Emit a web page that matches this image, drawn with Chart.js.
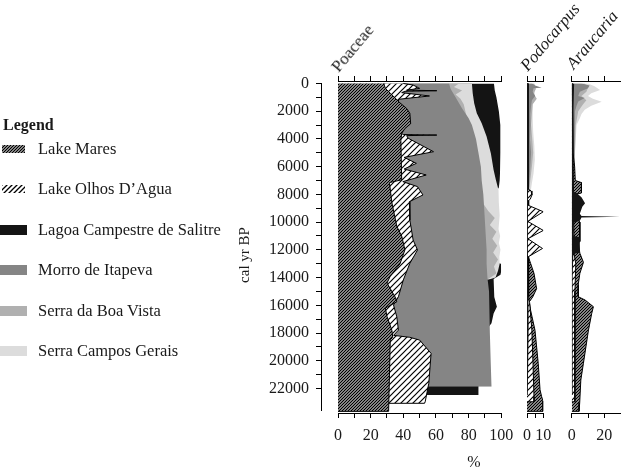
<!DOCTYPE html>
<html>
<head>
<meta charset="utf-8">
<script src="https://cdn.jsdelivr.net/npm/chart.js"></script>
<style>
body { margin: 0; background: #fff; width: 623px; height: 471px; overflow: hidden; position: relative; font-family: 'Liberation Serif', serif; color: #1a1a1a; }
canvas { position: absolute; left: 0; top: 0; }
.rot { position: absolute; white-space: nowrap; font-size: 17px; line-height: 17px; height: 17px; transform-origin: 0 100%; transform: rotate(-50deg); }
.lab { position: absolute; white-space: nowrap; }
</style>
</head>
<body>
<canvas id="yax" width="623" height="471"></canvas>
<canvas id="poa" width="623" height="471"></canvas>
<canvas id="pod" width="623" height="471"></canvas>
<canvas id="ara" width="623" height="471"></canvas>
<div id="legend"></div>
<div class="rot" style="left:341px;top:58px">Poaceae</div>
<div class="rot" style="left:530px;top:57px;font-style:italic">Podocarpus</div>
<div class="rot" style="left:576px;top:55px;font-style:italic">Araucaria</div>
<div class="lab" style="left:244px;top:255px;font-size:15px;transform:translate(-50%,-50%) rotate(-90deg)">cal yr BP</div>
<div class="lab" style="left:474px;top:462px;font-size:16px;transform:translate(-50%,-50%)">%</div>
<script>
// sites, in legend order
const sites = ['Lake Mares', 'Lake Olhos D\u2019Agua', 'Lagoa Campestre de Salitre', 'Morro de Itapeva', 'Serra da Boa Vista', 'Serra Campos Gerais']

// ticks
const ageTicks = [0, 1000, 2000, 3000, 4000, 5000, 6000, 7000, 8000, 9000, 10000, 11000, 12000, 13000, 14000, 15000, 16000, 17000, 18000, 19000, 20000, 21000, 22000]
const poaTicks = [0, 10, 20, 30, 40, 50, 60, 70, 80, 90, 100]
const poaLabels = [0, 20, 40, 60, 80, 100]
const podTicks = [0, 5, 10]
const podLabels = [0, 10]
const araTicks = [0, 10, 20]
const araLabels = [0, 20]

// Poaceae  [cal yr BP, %]
const poaMares = [[0,28],[350,29],[700,32],[1400,38],[1800,42],[2150,44],[2900,44.5],[3250,41],[3600,39],[4100,38.5],[6950,39],[7150,31.5],[8600,33],[10300,36],[11000,39],[12000,41],[13000,38],[13900,32],[14400,30],[15400,35],[15750,36],[16200,29],[16800,30],[17800,33],[18300,33.5],[18500,32],[23650,31],[23655,0]]
const poaOlhos = [[0,40],[110,46],[350,50],[480,42],[520,60.5],[560,41],[660,39],[900,56],[1140,37],[3500,37],[3680,40],[3720,60.5],[3760,42],[3950,43],[4920,58.5],[5330,40.5],[5760,48],[6170,40.5],[6600,54],[7080,39.7],[7440,48.7],[8040,52],[8530,43.7],[9850,44],[10570,45],[11290,46],[12010,48.7],[12970,44],[14170,40],[15380,37],[15980,34],[16830,36],[17790,37],[18170,34],[18310,44],[18510,50],[19470,57],[21630,55.6],[22110,54.8],[22960,53.4],[23070,53],[23075,0]]
const poaLagoa = [[0,95.5],[500,96],[1000,97],[2000,98.5],[3000,99.4],[5000,99.4],[6500,99.2],[7000,99],[7500,98.5],[8000,96],[9000,92],[11000,92],[12800,93],[13000,99.8],[13500,100],[13800,99.5],[14100,95.3],[15400,95.7],[16100,97.3],[16600,95.3],[17300,94],[17600,92],[20000,88],[21900,86],[22470,86]]
const poaMorro = [[0,68],[400,69],[1000,72],[1800,76],[2500,80],[3000,82],[4000,84.5],[5000,86],[6000,87.5],[7000,88],[8000,89],[9000,89.5],[10000,90],[11000,90.5],[12000,91],[13000,91],[14000,91.5],[15000,92.5],[16000,93],[18000,93],[20000,93.5],[21870,94]]
const poaBoaVista = [[0,74],[250,71],[500,76],[800,72],[1100,75],[1500,77],[2000,78],[3000,80],[5000,84],[7000,86],[8500,88],[9200,92],[9700,96],[10200,93],[10700,97],[11200,94.5],[11700,97.5],[12200,95],[12700,98],[13200,95.5],[13700,97],[14100,92]]
const poaCampos = [[0,82],[700,82.5],[1430,83.4],[2150,85],[2870,88],[3830,91],[5040,93.6],[6240,95.3],[6960,96.7],[7680,98.3],[8600,98.5],[9500,99],[10500,98.3],[11000,99.3],[11500,98.5],[12000,99.5],[12500,98.8],[13000,99],[13500,98],[14000,96.5],[14150,92]]

// Podocarpus
const podMares = [[0,0.6],[12500,0.8],[12970,2.2],[13700,4.3],[14800,5.9],[15400,3.5],[15750,1.4],[16350,2.2],[17800,4.9],[20200,6.9],[22100,8],[22600,9],[22900,9.8],[23650,9.8],[23655,0]]
const podOlhos = [[0,0.4],[7600,0.5],[7750,2.5],[8050,3],[8350,2],[8450,0.8],[8800,1],[9250,10],[9950,0.5],[10600,10],[11200,0.5],[11900,9.5],[12500,0.8],[15400,1],[15800,1.6],[17800,3],[20200,3.7],[22600,4.3],[22960,4.3],[22965,0]]
const podLagoa = [[0,1.2],[1000,0.8],[2000,1],[3000,1.2],[4000,1],[5000,0.8],[6000,1],[7000,0.8],[8000,0.6],[10000,0.6],[12000,0.5],[14000,0.8],[15000,1.2],[16000,1],[17500,0.8],[22470,0.5]]
const podMorro = [[0,3],[150,5],[300,9],[350,4],[600,3.5],[900,5],[1200,3],[1600,2.5],[2200,2],[3000,2.2],[4000,1.8],[5000,2.5],[6000,2],[7000,1.5],[8000,1],[12000,0.8],[14000,1],[21870,1]]
const podBoaVista = [[0,4.5],[400,5.5],[700,4],[1100,6],[1500,3.5],[2200,3],[3000,2.5],[4000,3.2],[5000,3.8],[6000,3],[7000,2],[8000,1.2],[9000,1],[12000,1],[14000,0.8]]
const podCampos = [[0,4],[500,5],[1000,4.5],[1500,3.5],[2500,3.5],[3500,3.8],[4500,4.5],[5500,4.8],[6500,4],[7200,3],[8000,2],[9000,1.5],[10500,1],[14000,0.8]]

// Araucaria
const araMares = [[0,0.5],[5000,0.8],[6000,1.8],[7000,2.2],[7150,6],[7900,6],[8000,2],[9700,3],[10000,5],[11400,5],[11500,4],[12240,5],[12900,7.2],[13700,5],[14500,4],[15380,4],[15620,8.2],[16100,13.3],[16580,12.3],[17780,10.3],[20180,7.2],[21390,5.6],[23050,4.9],[23650,4.5],[23655,0]]
const araOlhos = [[0,0.3],[12300,1.5],[13000,2.5],[15000,2],[16000,1.8],[20000,2],[22960,2],[22965,0]]
const araLagoa = [[0,1.5],[2000,1],[5000,1],[7800,1],[7900,3],[8200,6],[8640,8.2],[8900,6.5],[9400,5],[9560,6],[9610,29.5],[9660,6],[9900,5],[10050,1.2],[11000,1.2],[11100,5],[12200,5],[12300,1],[14000,0.6],[22470,0.6]]
const araMorro = [[0,6],[150,11],[350,10],[600,5],[900,4],[1050,8],[1300,4],[1600,3],[2000,2],[4000,1.5],[7000,1.5],[10000,1],[14000,1],[21870,1]]
const araBoaVista = [[0,8],[300,10],[600,9],[900,6],[1200,9],[1500,7],[2000,4],[3000,2.5],[5000,2],[8000,1],[14100,1]]
const araCampos = [[0,10],[200,14],[470,17.4],[700,12],[900,10],[1100,13],[1310,18.4],[1600,12],[1900,8],[2200,6],[2500,5],[3000,3],[4000,2.5],[5000,2],[6000,2],[7000,1.5],[8000,1],[10000,1],[14150,1]]

Chart.defaults.font.family = "'Liberation Serif', serif"
Chart.defaults.font.size = 16
Chart.defaults.color = '#1a1a1a'

const greys = [null, null, '#141414', '#858585', '#b0b0b0', '#dcdcdc']

// diagonal hatch on white
function hatch(ctx, step, lw) {
    let c = document.createElement('canvas')
    c.width = step
    c.height = step
    let g = c.getContext('2d')
    g.fillStyle = '#fff'
    g.fillRect(0, 0, step, step)
    g.strokeStyle = '#000'
    g.lineWidth = lw
    g.beginPath()
    g.moveTo(0, step); g.lineTo(step, 0)
    g.moveTo(-1, 1); g.lineTo(1, -1)
    g.moveTo(step - 1, step + 1); g.lineTo(step + 1, step - 1)
    g.stroke()
    return ctx ? ctx.createPattern(c, 'repeat') : c
}

// y axis on its own canvas
new Chart(document.getElementById('yax'), {
    type: 'line',
    data: { datasets: [{ data: [] }] },
    options: {
        responsive: false,
        animation: false,
        layout: { padding: { left: 231, right: 0, top: 83.5, bottom: 61 } },
        plugins: { legend: { display: false }, tooltip: { enabled: false } },
        scales: {
            x: { type: 'linear', display: false, min: 0, max: 1 },
            y: {
                type: 'linear', reverse: true, min: 0, max: 23553,
                afterFit: s => { s.width = 90 },
                afterBuildTicks: s => { s.ticks = ageTicks.map(v => ({ value: v })) },
                ticks: { padding: 7, autoSkip: false, callback: v => v % 2000 ? '' : String(v) },
                grid: { drawOnChartArea: false, tickLength: 5, color: '#000' },
                border: { color: '#000' }
            }
        }
    }
})

function panel(id, series, order, left, right, max, ticks, labels) {
    let cv = document.getElementById(id)
    let ctx = cv.getContext('2d')
    let pats = [hatch(ctx, 3, 1.4), hatch(ctx, 6, 1.2)]
    let datasets = series.map((s, i) => ({
        label: sites[i],
        data: s.map(p => ({ x: p[1], y: p[0] })),
        xAxisID: 'x',
        backgroundColor: i < 2 ? pats[i] : greys[i],
        borderColor: '#000',
        borderWidth: i < 2 ? 1 : 0,
        fill: 'origin',
        pointRadius: 0,
        tension: 0,
        order: order[i]
    }))
    let axis = (pos, h, show) => ({
        type: 'linear', position: pos, axis: 'x', min: 0, max: max,
        afterFit: s => { s.height = h },
        afterBuildTicks: s => { s.ticks = ticks.map(v => ({ value: v })) },
        ticks: { display: show, padding: 8, autoSkip: false, maxRotation: 0, callback: v => labels.includes(v) ? String(v) : '' },
        grid: { drawOnChartArea: false, tickLength: 5, color: '#000' },
        border: { color: '#000' }
    })
    new Chart(cv, {
        type: 'line',
        data: { datasets: datasets },
        options: {
            indexAxis: 'y',
            responsive: false,
            animation: false,
            layout: { padding: { left: left, right: 623 - right, top: 76, bottom: 18 } },
            plugins: { legend: { display: false }, tooltip: { enabled: false }, filler: { drawTime: 'beforeDatasetDraw' } },
            scales: {
                x: axis('bottom', 40, true),
                xt: axis('top', 5, false),
                y: { type: 'linear', reverse: true, min: -180, max: 23770, display: false }
            }
        }
    })
}

panel('poa', [poaMares, poaOlhos, poaLagoa, poaMorro, poaBoaVista, poaCampos], [0, 1, 5, 2, 3, 4], 338, 501.3, 100, poaTicks, poaLabels)
panel('pod', [podMares, podOlhos, podLagoa, podMorro, podBoaVista, podCampos], [2, 1, 0, 3, 4, 5], 527, 543.3, 10, podTicks, podLabels)
panel('ara', [araMares, araOlhos, araLagoa, araMorro, araBoaVista, araCampos], [2, 1, 0, 3, 4, 5], 571.7, 620.6, 30, araTicks, araLabels)

// legend
let lg = document.getElementById('legend')
let t = document.createElement('div')
t.className = 'lab'
t.style.cssText = 'left:3px;top:116px;font-size:16px;line-height:18px;font-weight:bold'
t.textContent = 'Legend'
lg.appendChild(t)
sites.forEach((name, i) => {
    let c = 148.5 + 40.5 * i
    let sw
    if (i < 2) {
        sw = document.createElement('canvas')
        sw.width = 23
        sw.height = 8
        let g = sw.getContext('2d')
        g.fillStyle = g.createPattern(hatch(null, i ? 5 : 3, i ? 1.3 : 1.4), 'repeat')
        g.fillRect(0, 0, 23, 8)
        sw.style.cssText = 'left:2px;top:' + (c - 4) + 'px'
    } else {
        sw = document.createElement('div')
        sw.style.cssText = 'position:absolute;left:0;top:' + (c - 5) + 'px;width:27px;height:10px;background:' + greys[i]
    }
    lg.appendChild(sw)
    let d = document.createElement('div')
    d.className = 'lab'
    d.style.cssText = 'left:38px;top:' + (c - 9) + 'px;font-size:16.5px;line-height:18px'
    d.textContent = name
    lg.appendChild(d)
})
</script>
</body>
</html>
